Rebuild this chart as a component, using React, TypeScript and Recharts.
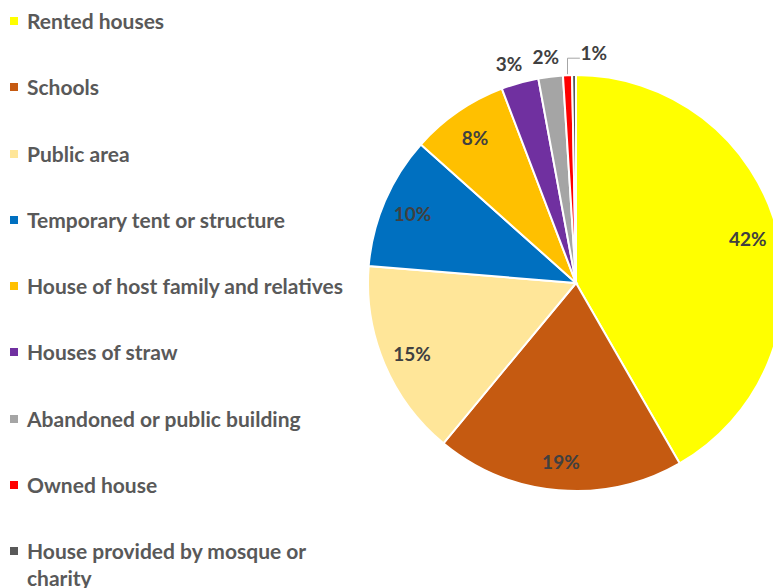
import React from "react";
import { PieChart, Pie, Cell } from "recharts";

const categories = [
  "Rented houses",
  "Schools",
  "Public area",
  "Temporary tent or structure",
  "House of host family and relatives",
  "Houses of straw",
  "Abandoned or public building",
  "Owned house",
  "House provided by mosque or charity",
];
const shares = [41.7, 19.3, 15.3, 10.3, 7.6, 2.9, 1.9, 0.7, 0.3];
const labelsShown = ["42%", "19%", "15%", "10%", "8%", "3%", "2%", "1%", ""];
const colors = [
  "#FFFF00",
  "#C55A11",
  "#FFE699",
  "#0070C0",
  "#FFC000",
  "#7030A0",
  "#A5A5A5",
  "#FF0000",
  "#595959",
];

const data = categories.map((name, i) => ({ name, value: shares[i], label: labelsShown[i] }));

const RAD = Math.PI / 180;
const FONT = "Lato, 'Open Sans', sans-serif";

const renderLabel = (props: any) => {
  const { cx, cy, midAngle, outerRadius, index } = props;
  const txt = labelsShown[index];
  if (!txt) return null;
  const small = shares[index] < 5;
  const cos = Math.cos(-midAngle * RAD);
  const sin = Math.sin(-midAngle * RAD);
  const common = {
    fill: "#404040",
    fontFamily: FONT,
    fontWeight: 700,
    fontSize: 19,
    textAnchor: "middle" as const,
    dominantBaseline: "central" as const,
  };
  if (!small) {
    const r = outerRadius * 0.855;
    return (
      <text x={cx + r * cos} y={cy + r * sin + 1} {...common}>{txt}</text>
    );
  }
  const r = outerRadius + 16;
  let x = cx + r * cos + cos * 24;
  let y = cy + r * sin + sin * 4;
  if (index === 7) {
    const ex = cx + outerRadius * cos;
    const ey = cy + outerRadius * sin;
    const lx = x + 28;
    const ly = y - 3;
    return (
      <g>
        <polyline
          points={`${ex},${ey - 1} ${ex},${ly + 6} ${lx - 14},${ly + 6}`}
          fill="none"
          stroke="#A6A6A6"
          strokeWidth={1}
        />
        <text x={lx} y={ly} {...common}>{txt}</text>
      </g>
    );
  }
  return (
    <text x={x} y={y} {...common}>{txt}</text>
  );
};

const LegendBlock = () => (
  <div style={{ position: "absolute", left: 0, top: 0, paddingTop: 7, fontFamily: FONT }}>
    {data.map((d, i) => (
      <div key={d.name} style={{ height: 66.3, display: "flex", alignItems: "flex-start" }}>
        <div
          style={{
            width: 8,
            height: 8,
            background: colors[i],
            marginLeft: 10,
            marginTop: 10,
            flex: "none",
          }}
        />
        <div
          style={{
            marginLeft: 9,
            width: 330,
            fontSize: 21,
            lineHeight: "27px",
            fontWeight: 700,
            color: "#595959",
          }}
        >
          {d.name}
        </div>
      </div>
    ))}
  </div>
);

export default function App() {
  return (
    <div style={{ position: "absolute", left: 0, top: 0, width: 773, height: 588, background: "#fff", overflow: "hidden" }}>
      <PieChart width={773} height={588} margin={{ top: 0, right: 0, bottom: 0, left: 0 }}>
        <Pie
          data={data}
          dataKey="value"
          nameKey="name"
          cx={576}
          cy={283}
          outerRadius={208}
          startAngle={90}
          endAngle={-270}
          stroke="#ffffff"
          strokeWidth={2}
          label={renderLabel}
          labelLine={false}
          isAnimationActive={false}
        >
          {data.map((d, i) => (
            <Cell key={d.name} fill={colors[i]} />
          ))}
        </Pie>
      </PieChart>
      <LegendBlock />
    </div>
  );
}
